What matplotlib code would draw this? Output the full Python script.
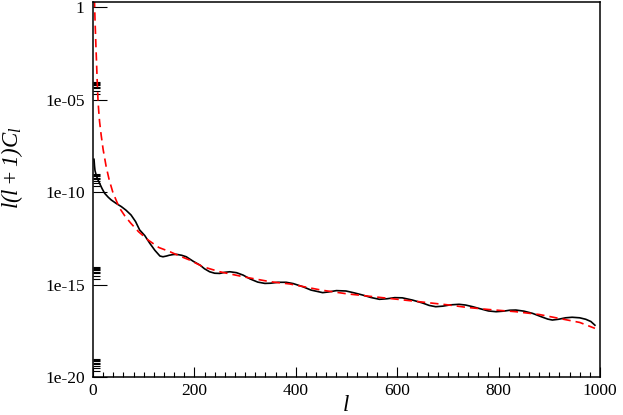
import numpy as np
import matplotlib
matplotlib.use("Agg")
import matplotlib.pyplot as plt
from matplotlib.ticker import FixedLocator, MultipleLocator, FixedFormatter

# ---- data ----
l_black = [2, 3, 4, 6.5, 9, 13, 18, 23, 30, 36, 46, 56, 65, 75, 84, 92, 102, 112,
           122, 132, 138, 145, 150, 158, 165, 175, 184, 198, 211, 220, 230, 240,
           250, 260, 270, 283, 296, 310, 325, 339, 350,
           365, 381, 395, 414, 430, 453, 465, 480, 499, 515, 532, 548, 565, 580,
           595, 610, 630, 650, 663, 676, 690, 705, 722, 735, 749, 765, 780, 795,
           810, 822, 834, 850, 867, 885, 897, 906, 918, 932, 945, 960, 972, 982,
           990]
log_black = [-8.23, -8.6, -8.85, -9.1, -9.3, -9.53, -9.82, -10.07, -10.28, -10.43,
             -10.62, -10.79, -10.98, -11.24, -11.6, -12.05, -12.35, -12.77, -13.15,
             -13.46, -13.5, -13.46, -13.42, -13.38, -13.37, -13.42, -13.5, -13.75,
             -13.95, -14.15, -14.31, -14.39, -14.4, -14.34, -14.31, -14.36,
             -14.49, -14.7, -14.87, -14.94, -14.93, -14.88, -14.88, -14.95, -15.12,
             -15.3, -15.44, -15.4, -15.33, -15.35, -15.45, -15.57, -15.7, -15.8,
             -15.77, -15.71, -15.72, -15.84, -16.0, -16.13, -16.2, -16.17, -16.1,
             -16.07, -16.11, -16.2, -16.32, -16.43, -16.47, -16.44, -16.39, -16.38,
             -16.44, -16.56, -16.75, -16.87, -16.92, -16.88, -16.8, -16.77, -16.8,
             -16.88, -17.0, -17.2]

l_red = [2, 2.5, 3, 3.5, 4, 5, 6, 7, 8, 9, 10, 11.5, 13, 16, 20, 26, 32, 39, 45, 52,
         63, 75, 90, 109, 130, 152, 170, 191, 217, 250, 300, 350, 388, 450, 500,
         550, 604, 650, 700, 735, 780, 834, 880, 919, 960, 990]
log_red = [0.6, 0.45, 0.28, -0.2, -0.7, -1.5, -2.3, -3.0, -3.8, -4.5, -5.1, -5.7,
           -6.2, -6.9, -7.7, -8.63, -9.35, -10.0, -10.4, -10.85, -11.3, -11.7,
           -12.15, -12.6, -13.0, -13.23, -13.45, -13.68, -14.04, -14.31, -14.6, -14.85,
           -14.97, -15.3, -15.5, -15.65, -15.81, -15.95, -16.1, -16.23, -16.35,
           -16.47, -16.62, -16.83, -17.05, -17.37]

x_ticks = [0, 200, 400, 600, 800, 1000]
x_ticklabels = ["0", "200", "400", "600", "800", "1000"]
y_ticks = [1e-20, 1e-15, 1e-10, 1e-05, 1]
y_ticklabels = ["1e-20", "1e-15", "1e-10", "1e-05", "1"]

# ---- figure ----
plt.rcParams['font.family'] = ['Liberation Serif', 'DejaVu Serif']
plt.rcParams['mathtext.fontset'] = 'custom'
plt.rcParams['mathtext.it'] = 'Liberation Serif:italic'
plt.rcParams['mathtext.rm'] = 'Liberation Serif:italic'
plt.rcParams['mathtext.default'] = 'it'

W, H = 623, 415
fig = plt.figure(figsize=(W / 100, H / 100), dpi=100)
x0, x1, y0, y1 = 93, 600, 1.7, 377
ax = fig.add_axes([x0 / W, 1 - y1 / H, (x1 - x0) / W, (y1 - y0) / H])

ax.plot(l_black, 10.0 ** np.array(log_black), color='black', lw=1.2)
ax.plot(l_red, 10.0 ** np.array(log_red), color='#ff0000', lw=1.2,
        linestyle=(0, (5, 3)))

ax.set_yscale('log')
ax.set_xlim(0, 1000)
ax.set_ylim(1e-20, 10 ** 0.29)

ax.xaxis.set_major_locator(FixedLocator(x_ticks))
ax.xaxis.set_major_formatter(FixedFormatter(x_ticklabels))
ax.xaxis.set_minor_locator(MultipleLocator(20))
ax.yaxis.set_major_locator(FixedLocator(y_ticks))
ax.yaxis.set_major_formatter(FixedFormatter(y_ticklabels))
minor_y = [k * t for t in y_ticks for k in range(2, 10)]
ax.yaxis.set_minor_locator(FixedLocator(minor_y))
ax.yaxis.set_minor_formatter(FixedFormatter([""] * len(minor_y)))

ax.tick_params(axis='both', which='both', direction='in', top=False, right=False,
               labelsize=12.5, width=0.8, colors='black')
ax.tick_params(axis='y', which='major', length=10, pad=6)
ax.tick_params(axis='y', which='minor', length=5)
ax.tick_params(axis='x', which='major', length=7.2, pad=4)
ax.tick_params(axis='x', which='minor', length=3.6)
for s in ax.spines.values():
    s.set_linewidth(1.1)

fig.text(12 / W, 1 - 168 / H, r'$l(l+1)C_l$', rotation=90, ha='center',
         va='center', fontsize=16.5)
fig.text(345.5 / W, 1 - 405 / H, r'$l$', ha='center', va='center', fontsize=16.5)

fig.savefig('out.png', dpi=100)
